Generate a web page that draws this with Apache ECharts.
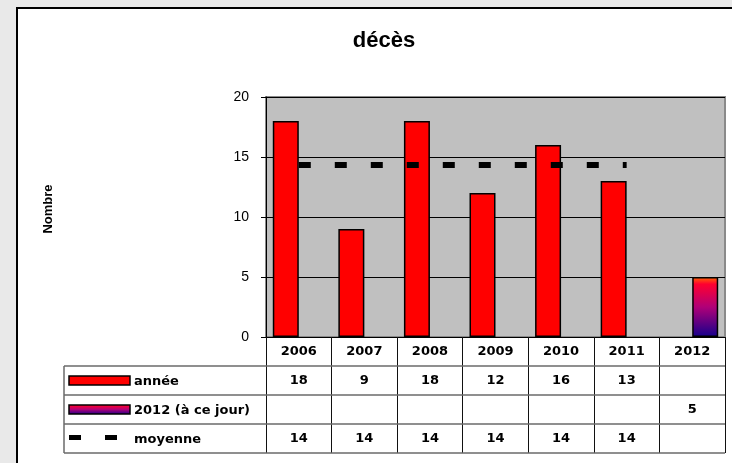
<!DOCTYPE html>
<html><head><meta charset="utf-8">
<script src="https://cdn.jsdelivr.net/npm/echarts@6/dist/echarts.min.js"></script>
<style>
html,body{margin:0;padding:0;width:732px;height:463px;overflow:hidden;background:#e9e9e9;}
#frame{position:absolute;left:16px;top:7px;width:800px;height:600px;background:#fff;border:2px solid #000;box-sizing:border-box;}
#chart{position:absolute;left:0;top:0;width:732px;height:463px;}
</style></head><body>
<div id="frame"></div><div id="chart"></div>
<script>
// ---- data ----
const categories = ['2006', '2007', '2008', '2009', '2010', '2011', '2012'];
const anneeValues = [18, 9, 18, 12, 16, 13, null];
const aCeJourValues = [null, null, null, null, null, null, 5];
const moyenneValues = [14.33, 14.33, 14.33, 14.33, 14.33, 14.33, null];
const moyenneTableLabels = ['14', '14', '14', '14', '14', '14', ''];
const seriesNames = ['année', '2012 (à ce jour)', 'moyenne'];
const yTickValues = [0, 5, 10, 15, 20];
const titleText = 'décès';
const yAxisTitle = 'Nombre';

// ---- layout ----
const G = { left: 266, top: 97, width: 459, height: 240 };
const ROW = 29;
const TABLE_LEFT = 64;
const tableFont = 'DejaVu Sans';
const tableSize = 13;
const baseY = G.top + G.height;
const right = G.left + G.width;

const chart = echarts.init(document.getElementById('chart'), null, { renderer: 'canvas' });

const gradient = new echarts.graphic.LinearGradient(0, 0, 0, 1, [
  { offset: 0, color: '#ff6a00' },
  { offset: 0.12, color: '#ff0030' },
  { offset: 0.5, color: '#b00078' },
  { offset: 1, color: '#14008c' }
]);

function rowLabelAxis(i, labels) {
  return {
    type: 'category', data: categories, gridIndex: 0, position: 'bottom',
    offset: ROW * (i + 1),
    axisLine: { show: false }, axisTick: { show: false }, splitLine: { show: false },
    axisLabel: {
      interval: 0, margin: 8, color: '#000', fontFamily: tableFont, fontWeight: 'bold', fontSize: tableSize,
      formatter: (v, idx) => labels[idx] == null ? '' : String(labels[idx])
    }
  };
}

const graphics = [];
// table horizontal lines
for (let k = 1; k <= 4; k++) {
  const y = baseY + ROW * k;
  graphics.push({ type: 'line', shape: { x1: TABLE_LEFT, y1: y, x2: right, y2: y }, style: { stroke: '#6a6a6a', lineWidth: 1.5 }, z: 50 });
}
graphics.push({ type: 'line', shape: { x1: TABLE_LEFT, y1: baseY + ROW, x2: TABLE_LEFT, y2: baseY + ROW * 4 }, style: { stroke: '#6a6a6a', lineWidth: 1.5 }, z: 50 });
// legend keys
graphics.push({ type: 'rect', shape: { x: 69, y: baseY + ROW + 10, width: 61, height: 9 }, style: { fill: '#ff0000', stroke: '#000', lineWidth: 1.5 }, z: 50 });
graphics.push({ type: 'rect', shape: { x: 69, y: baseY + ROW * 2 + 10, width: 61, height: 9 }, style: { fill: gradient, stroke: '#000', lineWidth: 1.5 }, z: 50 });
graphics.push({ type: 'rect', shape: { x: 69, y: baseY + ROW * 3 + 11, width: 12, height: 5 }, style: { fill: '#000' }, z: 50 });
graphics.push({ type: 'rect', shape: { x: 105, y: baseY + ROW * 3 + 11, width: 12, height: 5 }, style: { fill: '#000' }, z: 50 });
// row labels
seriesNames.forEach((n, i) => {
  graphics.push({
    type: 'text', x: 134, y: baseY + ROW * (i + 1) + ROW / 2 + 1, z: 50,
    style: { text: n, fill: '#000', fontFamily: tableFont, fontWeight: 'bold', fontSize: tableSize, textAlign: 'left', textVerticalAlign: 'middle', verticalAlign: 'middle' }
  });
});
// y axis title
graphics.push({
  type: 'text', x: 48, y: 209, rotation: Math.PI / 2, z: 50,
  style: { text: yAxisTitle, fill: '#000', fontFamily: 'Liberation Sans', fontWeight: 'bold', fontSize: 13, textAlign: 'center', textVerticalAlign: 'middle', verticalAlign: 'middle' }
});

const option = {
  animation: false,
  backgroundColor: 'transparent',
  title: {
    text: titleText, left: 379, top: 25, textAlign: 'center',
    textStyle: { fontFamily: 'Liberation Sans', fontWeight: 'bold', fontSize: 22, color: '#000' }
  },
  grid: {
    left: G.left, top: G.top, width: G.width, height: G.height,
    show: true, backgroundColor: '#c0c0c0', borderColor: '#8a8a8a', borderWidth: 2,
    containLabel: false
  },
  xAxis: [
    {
      type: 'category', data: categories, gridIndex: 0, position: 'bottom',
      axisLine: { show: true, lineStyle: { color: '#000', width: 1 } },
      axisTick: { show: true, interval: 0, length: ROW * 4, lineStyle: { color: '#111', width: 1 } },
      axisLabel: { interval: 0, margin: 8, color: '#000', fontFamily: tableFont, fontWeight: 'bold', fontSize: tableSize },
      splitLine: { show: false }
    },
    rowLabelAxis(0, anneeValues),
    rowLabelAxis(1, aCeJourValues),
    rowLabelAxis(2, moyenneTableLabels)
  ],
  yAxis: {
    type: 'value', min: yTickValues[0], max: yTickValues[yTickValues.length - 1], interval: 5,
    axisLine: { show: true, lineStyle: { color: '#000', width: 1 } },
    axisTick: { show: true, length: 5, lineStyle: { color: '#000' } },
    axisLabel: { margin: 17, color: '#000', fontFamily: 'Liberation Sans', fontSize: 14 },
    splitLine: { show: true, lineStyle: { color: '#000', width: 1 } }
  },
  series: [
    {
      name: seriesNames[0], type: 'bar', data: anneeValues, barWidth: 26, barGap: '0%',
      itemStyle: { color: '#ff0000', borderColor: '#000', borderWidth: 1.5 }, z: 3
    },
    {
      name: seriesNames[1], type: 'bar', data: aCeJourValues, barWidth: 26, barGap: '0%',
      itemStyle: { color: gradient, borderColor: '#000', borderWidth: 1.5 }, z: 3
    },
    {
      name: seriesNames[2], type: 'line', data: moyenneValues, symbol: 'none', showSymbol: false,
      lineStyle: { color: '#000', width: 6, type: [12, 24], cap: 'butt' }, z: 10
    }
  ],
  graphic: graphics
};
chart.setOption(option);
</script>
</body></html>
